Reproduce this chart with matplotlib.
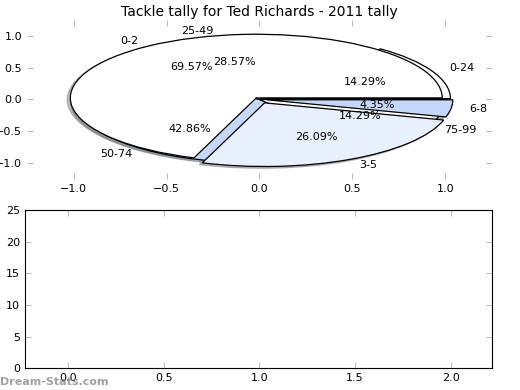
import matplotlib
matplotlib.use("Agg")
import matplotlib.pyplot as plt

# Data
title = "Tackle tally for Ted Richards - 2011 tally"
inner_labels = ["0-2", "3-5", "6-8"]
inner_counts = [16, 6, 1]
outer_labels = ["0-24", "25-49", "50-74", "75-99"]
outer_counts = [1, 2, 3, 1]
pie_colors = ["white", "#e8f0fd", "#c5d8f9"]

bottom_xticks = [0.0, 0.5, 1.0, 1.5, 2.0]
bottom_yticks = [0, 5, 10, 15, 20, 25]

fig = plt.figure(figsize=(5.2, 3.9), dpi=100)

# Top: two pies drawn on one stretched axes
ax = fig.add_axes([0.052, 0.541, 0.894, 0.408])
wedge_style = dict(edgecolor="black", linewidth=0.9)
text_style = dict(fontsize=8)
shadow_style = dict(ox=-0.012, oy=-0.02, shade=0.5)

ax.pie(outer_counts, labels=outer_labels, colors=pie_colors + pie_colors[:1],
       explode=[0.03, 0, 0, 0], autopct="%.2f%%", shadow=shadow_style, frame=True,
       wedgeprops=wedge_style, textprops=text_style)
ax.pie(inner_counts, labels=inner_labels, colors=pie_colors,
       explode=[0.03, 0.06, 0.04], autopct="%.2f%%", shadow=shadow_style, frame=True,
       wedgeprops=wedge_style, textprops=text_style)

ax.set_aspect("auto")
ax.set_xlim(-1.25, 1.25)
ax.set_ylim(-1.25, 1.25)
ax.set_xticks([-1.0, -0.5, 0.0, 0.5, 1.0])
ax.set_yticks([-1.0, -0.5, 0.0, 0.5, 1.0])
for s in ax.spines.values():
  s.set_visible(False)
ax.tick_params(direction="in", top=True, right=True, color="#bbbbbb",
               labelsize=8, length=4)
ax.set_title(title, fontsize=10, pad=3)

# Bottom: empty axes
ax2 = fig.add_axes([0.048, 0.056, 0.898, 0.405])
ax2.set_xlim(-0.225, 2.216)
ax2.set_ylim(0, 25)
ax2.set_xticks(bottom_xticks)
ax2.set_yticks(bottom_yticks)
ax2.tick_params(direction="in", top=True, right=True, color="#bbbbbb",
                labelsize=8, length=4)

# Watermark
fig.text(0.0, 0.012, "Dream-Stats.com", fontsize=8, fontweight="bold",
         color="#888888", alpha=0.8)

fig.savefig("out.png", dpi=100)
